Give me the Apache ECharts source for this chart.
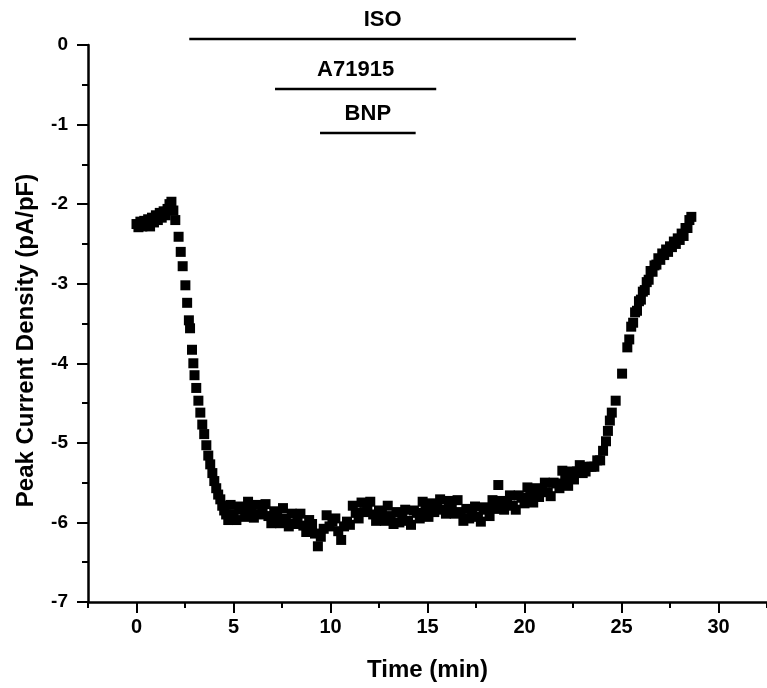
<!DOCTYPE html>
<html lang="en">
<head>
  <meta charset="UTF-8">
  <title>Peak Current Density</title>
  <style>
    html, body { margin: 0; padding: 0; background: #fff; }
    #main { width: 767px; height: 688px; }
  </style>
</head>
<body>
  <div id="main"></div>
  <script src="https://cdn.jsdelivr.net/npm/echarts@6/dist/echarts.min.js"></script>
  <script>
    // time (min), peak current density (pA/pF)
    var baseline = [
      [0.0, -2.25], [0.1, -2.29], [0.2, -2.22], [0.3, -2.28], [0.4, -2.21], [0.5, -2.26],
      [0.6, -2.19], [0.7, -2.28], [0.8, -2.17], [0.9, -2.23], [1.0, -2.14], [1.1, -2.2],
      [1.2, -2.11], [1.3, -2.17], [1.4, -2.09], [1.5, -2.14], [1.6, -2.06], [1.7, -2.0],
      [1.8, -1.97], [1.9, -2.08], [2.0, -2.2]
    ];
    var onset = [
      [2.17, -2.41], [2.28, -2.6], [2.38, -2.78], [2.52, -3.02], [2.61, -3.24], [2.7, -3.46],
      [2.76, -3.56], [2.86, -3.83], [2.93, -4.0], [2.99, -4.15], [3.08, -4.31], [3.19, -4.47],
      [3.29, -4.62], [3.39, -4.77], [3.49, -4.89], [3.6, -5.03], [3.7, -5.16], [3.8, -5.27],
      [3.91, -5.38], [4.01, -5.48], [4.11, -5.57], [4.21, -5.65], [4.32, -5.71], [4.42, -5.79],
      [4.52, -5.85], [4.62, -5.9], [4.73, -5.97]
    ];
    var plateau = [
      [4.85, -5.78], [5.0, -5.9], [5.15, -5.97], [5.3, -5.8], [5.45, -5.84], [5.6, -5.93],
      [5.75, -5.74], [5.9, -5.85], [6.05, -5.94], [6.2, -5.78], [6.35, -5.9], [6.5, -5.83],
      [6.65, -5.77], [6.8, -5.92], [6.95, -6.01], [7.1, -5.86], [7.25, -5.91], [7.4, -6.01],
      [7.55, -5.82], [7.7, -5.95], [7.85, -6.05], [8.0, -5.89], [8.15, -6.02], [8.3, -5.95],
      [8.45, -5.89], [8.6, -6.04], [8.75, -6.12], [8.9, -5.97], [9.05, -6.02], [9.2, -6.14],
      [9.35, -6.3], [9.5, -6.18], [9.65, -6.08], [9.8, -5.91], [9.95, -6.05], [10.1, -5.99],
      [10.25, -5.95], [10.4, -6.11], [10.55, -6.22], [10.7, -6.05], [10.85, -5.99], [11.0, -6.03],
      [11.15, -5.79], [11.3, -5.88], [11.45, -5.95], [11.6, -5.75], [11.75, -5.87], [11.9, -5.8],
      [12.05, -5.74], [12.2, -5.9], [12.35, -5.98], [12.5, -5.85], [12.65, -5.89], [12.8, -5.98],
      [12.95, -5.79], [13.1, -5.92], [13.25, -6.02], [13.4, -5.87], [13.55, -6.0], [13.7, -5.92],
      [13.85, -5.84], [14.0, -5.98], [14.15, -6.03], [14.3, -5.85], [14.45, -5.88], [14.6, -5.95],
      [14.75, -5.74], [14.9, -5.85], [15.05, -5.93], [15.2, -5.76], [15.35, -5.87], [15.5, -5.79],
      [15.65, -5.71], [15.8, -5.84], [15.95, -5.89], [16.1, -5.73], [16.25, -5.78], [16.4, -5.89],
      [16.55, -5.72], [16.7, -5.87], [16.85, -5.98], [17.0, -5.83], [17.15, -5.95], [17.3, -5.87],
      [17.45, -5.8], [17.6, -5.93], [17.75, -5.99], [17.9, -5.81], [18.05, -5.84], [18.2, -5.92],
      [18.35, -5.72], [18.5, -5.83], [18.65, -5.53], [18.8, -5.73], [18.95, -5.84], [19.1, -5.74],
      [19.25, -5.66], [19.4, -5.79], [19.55, -5.84], [19.7, -5.66], [19.85, -5.69], [20.0, -5.76],
      [20.15, -5.56], [20.3, -5.67], [20.45, -5.75], [20.6, -5.57], [20.75, -5.68], [20.9, -5.59],
      [21.05, -5.5], [21.2, -5.62], [21.35, -5.67], [21.5, -5.5], [21.65, -5.51], [21.8, -5.57],
      [21.95, -5.35], [22.1, -5.46], [22.25, -5.54], [22.4, -5.36], [22.55, -5.46], [22.7, -5.36],
      [22.85, -5.28], [23.0, -5.38], [23.15, -5.36], [23.3, -5.3], [23.45, -5.3], [23.6, -5.3],
      [23.75, -5.22], [23.9, -5.22], [24.05, -5.1]
    ];
    var washout = [
      [24.2, -4.98], [24.3, -4.85], [24.4, -4.72], [24.5, -4.62], [24.7, -4.47], [25.03, -4.13],
      [25.3, -3.8], [25.4, -3.7], [25.5, -3.54], [25.6, -3.49], [25.7, -3.36], [25.8, -3.34],
      [25.9, -3.22], [26.0, -3.2], [26.1, -3.1], [26.2, -3.08], [26.3, -2.98], [26.4, -2.95],
      [26.5, -2.84], [26.6, -2.85], [26.7, -2.77], [26.8, -2.76], [26.9, -2.68], [27.0, -2.7],
      [27.1, -2.62], [27.2, -2.64], [27.3, -2.57], [27.4, -2.6], [27.5, -2.53], [27.6, -2.54],
      [27.7, -2.47], [27.8, -2.5], [27.9, -2.43], [28.0, -2.45], [28.1, -2.37], [28.2, -2.4],
      [28.3, -2.3], [28.4, -2.3], [28.5, -2.2], [28.6, -2.16]
    ];

    // drug application bars
    var drugNames = ['ISO', 'A71915', 'BNP'];
    var drugOn = [2.72, 7.14, 9.46];
    var drugOff = [22.65, 15.45, 14.39];
    var drugLevel = [0.075, -0.553, -1.107];

    var xMajorTicks = [0, 5, 10, 15, 20, 25, 30];
    var xMinorTicks = [-2.5, 2.5, 7.5, 12.5, 17.5, 22.5, 27.5, 32.5];

    var font = 'Liberation Sans, Arial, sans-serif';
    var black = '#000';

    var myChart = echarts.init(document.getElementById('main'));

    var barSeries = drugNames.map(function (name, i) {
      return {
        type: 'line',
        name: name,
        data: [[drugOn[i], drugLevel[i]], [drugOff[i], drugLevel[i]]],
        showSymbol: false,
        symbol: 'none',
        clip: false,
        silent: true,
        lineStyle: { color: black, width: 2.5 }
      };
    });

    var option = {
      backgroundColor: '#fff',
      animation: false,
      grid: { left: 88, top: 45, width: 681, height: 557 },
      xAxis: [{
        type: 'value',
        min: -2.5,
        max: 32.5,
        position: 'bottom',
        name: 'Time (min)',
        nameLocation: 'middle',
        nameGap: 56,
        nameTextStyle: { color: black, fontSize: 24, fontWeight: 'bold', fontFamily: font },
        axisLine: { show: true, onZero: false, lineStyle: { color: black, width: 2.5 } },
        axisTick: { show: true, customValues: xMajorTicks, length: 11, lineStyle: { color: black, width: 2 } },
        axisLabel: { customValues: xMajorTicks, color: black, fontSize: 20, fontWeight: 'bold', fontFamily: font, margin: 15 },
        splitLine: { show: false }
      }, {
        type: 'value',
        min: -2.5,
        max: 32.5,
        position: 'top',
        offset: -557,
        axisLine: { show: false },
        axisTick: { show: true, inside: true, customValues: xMinorTicks, length: 6, lineStyle: { color: black, width: 2 } },
        axisLabel: { show: false },
        splitLine: { show: false }
      }],
      yAxis: {
        type: 'value',
        min: -7,
        max: 0,
        interval: 1,
        name: 'Peak Current Density (pA/pF)',
        nameLocation: 'middle',
        nameGap: 50,
        nameTextStyle: { color: black, fontSize: 24, fontWeight: 'bold', fontFamily: font, padding: [0, 34, 0, 0] },
        axisLine: { show: true, onZero: false, lineStyle: { color: black, width: 2.5 } },
        axisTick: { show: true, length: 11, lineStyle: { color: black, width: 2 } },
        minorTick: { show: true, splitNumber: 2, length: 6, lineStyle: { color: black, width: 2 } },
        axisLabel: { color: black, fontSize: 19, fontWeight: 'bold', fontFamily: font, margin: 20 },
        splitLine: { show: false },
        minorSplitLine: { show: false }
      },
      series: [{
        type: 'scatter',
        symbol: 'rect',
        symbolSize: 10,
        itemStyle: { color: black, opacity: 1 },
        data: baseline.concat(onset, plateau, washout)
      }].concat(barSeries, [{
        type: 'scatter',
        symbolSize: 0,
        clip: false,
        silent: true,
        itemStyle: { opacity: 1 },
        data: drugNames.map(function (name, i) {
          return { name: name, value: [(drugOn[i] + drugOff[i]) / 2, drugLevel[i]] };
        }),
        label: {
          show: true,
          position: 'top',
          distance: 8,
          formatter: '{b}',
          color: black,
          fontSize: 22,
          fontWeight: 'bold',
          fontFamily: font
        }
      }])
    };

    myChart.setOption(option);
  </script>
</body>
</html>
